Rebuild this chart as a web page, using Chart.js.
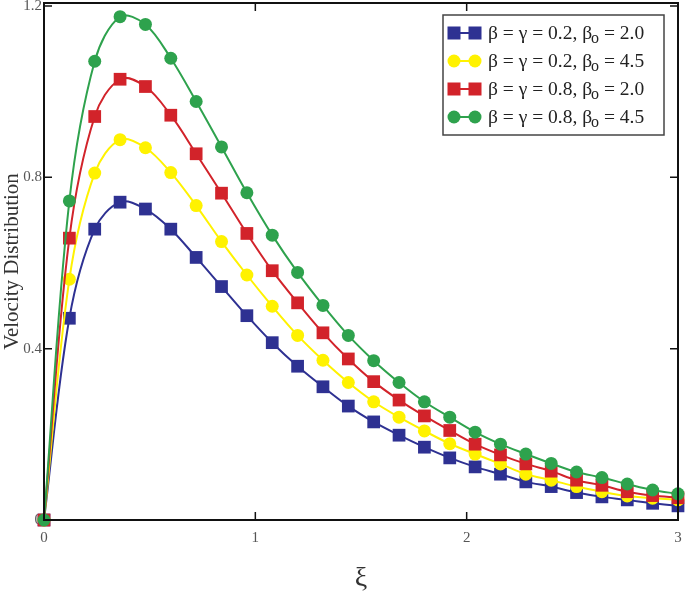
<!DOCTYPE html>
<html>
<head>
<meta charset="utf-8">
<script src="https://cdn.jsdelivr.net/npm/chart.js@4.4.1/dist/chart.umd.min.js"></script>
<style>
  html, body { margin: 0; padding: 0; background: #fff; }
  #wrap { width: 685px; height: 591px; position: relative; }
</style>
</head>
<body>
<div id="wrap"><canvas id="c" width="685" height="591"></canvas></div>
<script>
const xValues = [0, 0.12, 0.24, 0.36, 0.48, 0.60, 0.72, 0.84, 0.96, 1.08, 1.20, 1.32, 1.44, 1.56, 1.68, 1.80, 1.92, 2.04, 2.16, 2.28, 2.40, 2.52, 2.64, 2.76, 2.88, 3.00];
const seriesA = [0, 0.471, 0.679, 0.742, 0.726, 0.679, 0.613, 0.545, 0.477, 0.414, 0.359, 0.311, 0.266, 0.229, 0.198, 0.170, 0.145, 0.124, 0.107, 0.089, 0.078, 0.064, 0.054, 0.047, 0.039, 0.033];
const seriesB = [0, 0.562, 0.810, 0.888, 0.869, 0.811, 0.734, 0.650, 0.572, 0.499, 0.431, 0.373, 0.321, 0.276, 0.240, 0.208, 0.178, 0.154, 0.131, 0.107, 0.093, 0.078, 0.066, 0.056, 0.051, 0.047];
const seriesC = [0, 0.658, 0.942, 1.029, 1.012, 0.945, 0.855, 0.763, 0.669, 0.582, 0.507, 0.437, 0.376, 0.323, 0.280, 0.243, 0.209, 0.177, 0.152, 0.131, 0.114, 0.093, 0.081, 0.066, 0.057, 0.052];
const seriesD = [0, 0.745, 1.071, 1.175, 1.157, 1.078, 0.977, 0.871, 0.764, 0.665, 0.578, 0.501, 0.431, 0.372, 0.321, 0.276, 0.240, 0.205, 0.177, 0.154, 0.132, 0.112, 0.099, 0.084, 0.070, 0.061];
const seriesLabels = ['β = γ = 0.2, βo = 2.0', 'β = γ = 0.2, βo = 4.5', 'β = γ = 0.8, βo = 2.0', 'β = γ = 0.8, βo = 4.5'];
const legendParts = [
  ['β = γ = 0.2, β', 'o', ' = 2.0'],
  ['β = γ = 0.2, β', 'o', ' = 4.5'],
  ['β = γ = 0.8, β', 'o', ' = 2.0'],
  ['β = γ = 0.8, β', 'o', ' = 4.5']
];
const xTicks = [0, 1, 2, 3];
const yTicks = [0, 0.4, 0.8, 1.2];
const xTitle = 'ξ';
const yTitle = 'Velocity Distribution';

const colors = ['#2E3192', '#FFF200', '#D2232A', '#2EA24D'];
const styles = ['rect', 'circle', 'rect', 'circle'];
const radii = [9, 6.5, 9, 6.5];
const SERIF = '"Liberation Serif", "Times New Roman", "DejaVu Serif", serif';

function pts(arr) { return xValues.map((x, i) => ({ x: x, y: arr[i] })); }
const allSeries = [seriesA, seriesB, seriesC, seriesD];

const datasets = allSeries.map((s, i) => ({
  label: seriesLabels[i],
  data: pts(s),
  borderColor: colors[i],
  backgroundColor: colors[i],
  borderWidth: 2,
  pointStyle: styles[i],
  pointRadius: radii[i],
  pointHoverRadius: radii[i],
  pointBorderWidth: 0,
  tension: 0.35,
  clip: false,
  order: 3 - i
}));

const framePlugin = {
  id: 'frame',
  afterDatasetsDraw(chart) {
    const ctx = chart.ctx;
    const a = chart.chartArea;
    const xs = chart.scales.x, ys = chart.scales.y;
    ctx.save();
    ctx.strokeStyle = '#111';
    ctx.lineWidth = 2;
    ctx.strokeRect(a.left, a.top, a.right - a.left, a.bottom - a.top);
    ctx.lineWidth = 1.5;
    const L = 8;
    ctx.beginPath();
    xTicks.forEach(v => {
      const px = xs.getPixelForValue(v);
      ctx.moveTo(px, a.bottom); ctx.lineTo(px, a.bottom - L);
      ctx.moveTo(px, a.top); ctx.lineTo(px, a.top + L);
    });
    yTicks.forEach(v => {
      const py = ys.getPixelForValue(v);
      ctx.moveTo(a.left, py); ctx.lineTo(a.left + L, py);
      ctx.moveTo(a.right, py); ctx.lineTo(a.right - L, py);
    });
    ctx.stroke();
    ctx.restore();
  },
  afterDraw(chart) {
    const ctx = chart.ctx;
    const bx = 443, by = 15, bw = 221, bh = 120;
    ctx.save();
    ctx.fillStyle = '#fff';
    ctx.fillRect(bx, by, bw, bh);
    ctx.strokeStyle = '#444';
    ctx.lineWidth = 1.5;
    ctx.strokeRect(bx, by, bw, bh);
    const rowY = [33, 61, 89, 117];
    for (let i = 0; i < 4; i++) {
      const y = rowY[i];
      const x0 = 454, x1 = 475;
      ctx.strokeStyle = colors[i];
      ctx.lineWidth = 2;
      ctx.beginPath(); ctx.moveTo(x0, y); ctx.lineTo(x1, y); ctx.stroke();
      ctx.fillStyle = colors[i];
      [x0, x1].forEach(px => {
        if (styles[i] === 'rect') {
          ctx.fillRect(px - 6.5, y - 6.5, 13, 13);
        } else {
          ctx.beginPath(); ctx.arc(px, y, 6.5, 0, Math.PI * 2); ctx.fill();
        }
      });
      const p = legendParts[i];
      ctx.fillStyle = '#222';
      ctx.textBaseline = 'middle';
      ctx.font = '19.5px ' + SERIF;
      let tx = 488;
      ctx.fillText(p[0], tx, y + 1);
      tx += ctx.measureText(p[0]).width - 1;
      ctx.font = '16px ' + SERIF;
      ctx.fillText(p[1], tx, y + 6);
      tx += ctx.measureText(p[1]).width;
      ctx.font = '19.5px ' + SERIF;
      ctx.fillText(p[2], tx, y + 1);
    }
    ctx.restore();
  }
};

new Chart(document.getElementById('c'), {
  type: 'line',
  data: { datasets: datasets },
  options: {
    responsive: false,
    animation: false,
    devicePixelRatio: 1,
    layout: { autoPadding: false, padding: { top: 3, right: 7, left: 0, bottom: 0 } },
    plugins: { legend: { display: false }, tooltip: { enabled: false } },
    scales: {
      x: {
        type: 'linear', min: 0, max: 3,
        afterBuildTicks(s) { s.ticks = xTicks.map(v => ({ value: v })); },
        afterFit(s) { s.height = 71; s.paddingLeft = 0; s.paddingRight = 0; },
        grid: { display: false, drawTicks: false },
        border: { display: false },
        ticks: { color: '#555', font: { family: SERIF, size: 15 }, padding: 9, callback: v => String(v) },
        title: { display: true, text: xTitle, color: '#333', font: { family: SERIF, size: 28 }, padding: { top: 0, bottom: -4 } }
      },
      y: {
        type: 'linear', min: 0, max: 1.207,
        afterBuildTicks(s) { s.ticks = yTicks.map(v => ({ value: v })); },
        afterFit(s) { s.width = 44; s.paddingTop = 0; s.paddingBottom = 0; },
        grid: { display: false, drawTicks: false },
        border: { display: false },
        ticks: { color: '#555', font: { family: SERIF, size: 15 }, padding: 2, callback: v => v === 0 ? '0' : v.toFixed(1) },
        title: { display: true, text: yTitle, color: '#333', font: { family: SERIF, size: 21 }, padding: { top: 0, bottom: 0 } }
      }
    }
  },
  plugins: [framePlugin]
});
</script>
</body>
</html>
